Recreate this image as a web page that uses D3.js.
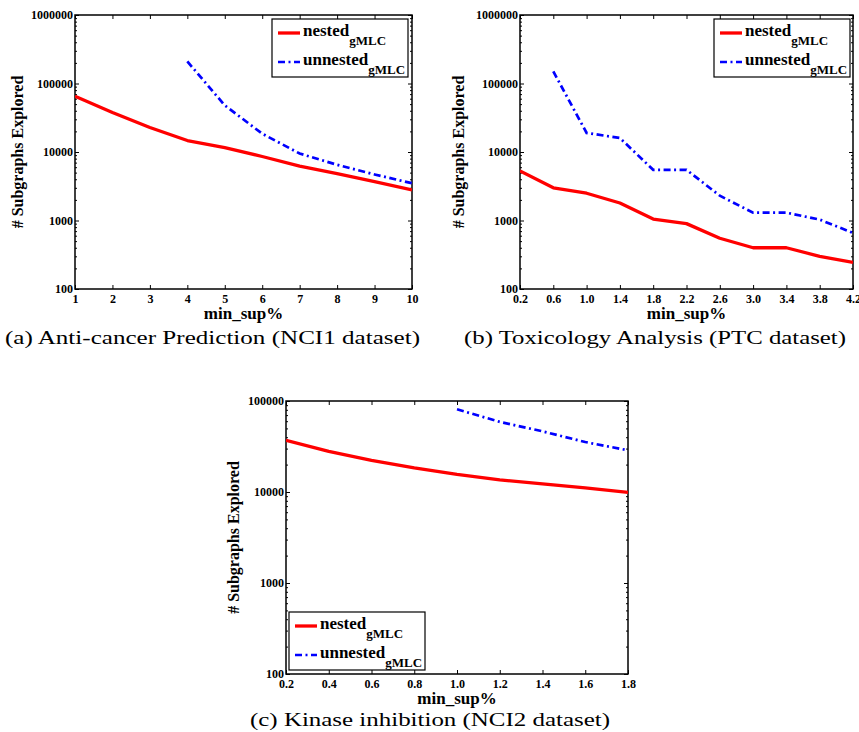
<!DOCTYPE html>
<html>
<head>
<meta charset="utf-8">
<script src="https://cdn.jsdelivr.net/npm/d3@7"></script>
<style>
	body { margin: 0; background: #fff; }
	svg { display: block; }
	.tick text { font-family: "Liberation Serif", serif; font-weight: bold; font-size: 12px; fill: #000; }
	.axisLabel { font-family: "Liberation Serif", serif; font-weight: bold; }
	.caption { font-family: "Liberation Serif", serif; font-size: 19px; }
</style>
</head>
<body>
<div id="chart"></div>
<script>
// (a) NCI1
var xA = [1, 2, 3, 4, 5, 6, 7, 8, 9, 10];
var nestedA = [65000, 37700, 22800, 14700, 11600, 8600, 6200, 4850, 3700, 2800];
var xUnA = [4, 5, 6, 7, 8, 9, 10];
var unnestedA = [210000, 48000, 18500, 9500, 6500, 4700, 3500];
var xTicksA = [1, 2, 3, 4, 5, 6, 7, 8, 9, 10];

// (b) PTC
var xB = [0.2, 0.6, 1.0, 1.4, 1.8, 2.2, 2.6, 3.0, 3.4, 3.8, 4.2];
var nestedB = [5300, 3000, 2500, 1800, 1050, 900, 550, 400, 400, 300, 245];
var xUnB = [0.6, 1.0, 1.4, 1.8, 2.2, 2.6, 3.0, 3.4, 3.8, 4.2];
var unnestedB = [150000, 19000, 16000, 5500, 5500, 2300, 1300, 1300, 1030, 660];
var xTicksB = [0.2, 0.6, 1.0, 1.4, 1.8, 2.2, 2.6, 3.0, 3.4, 3.8, 4.2];

// (c) NCI2
var xC = [0.2, 0.4, 0.6, 0.8, 1.0, 1.2, 1.4, 1.6, 1.8];
var nestedC = [37000, 28000, 22300, 18400, 15600, 13600, 12300, 11100, 9900];
var xUnC = [1.0, 1.2, 1.4, 1.6, 1.8];
var unnestedC = [81000, 59000, 46400, 35400, 28700];
var xTicksC = [0.2, 0.4, 0.6, 0.8, 1.0, 1.2, 1.4, 1.6, 1.8];

var yTicks6 = [100, 1000, 10000, 100000, 1000000];
var yTicks5 = [100, 1000, 10000, 100000];

var captions = [
	"(a) Anti-cancer Prediction (NCI1 dataset)",
	"(b) Toxicology Analysis (PTC dataset)",
	"(c) Kinase inhibition (NCI2 dataset)",
];

var svg = d3
	.select("#chart")
	.append("svg")
	.attr("width", 859)
	.attr("height", 732);

function minorTicks(lo, hi) {
	var out = [];
	for (var p = lo; p < hi; p *= 10) {
		for (var k = 2; k <= 9; k++) out.push(p * k);
	}
	return out;
}

function drawPanel(opt) {
	var x = d3.scaleLinear().domain(opt.xDomain).range([opt.left, opt.right]);
	var y = d3.scaleLog().domain(opt.yDomain).range([opt.bottom, opt.top]);
	var fmt = opt.xFormat;

	// bottom axis with labels, ticks inside
	svg.append("g")
		.attr("transform", "translate(0," + opt.bottom + ")")
		.call(d3.axisBottom(x).tickValues(opt.xTicks).tickSizeInner(-4).tickSizeOuter(0).tickPadding(5).tickFormat(fmt))
		.call((g) => g.select(".domain").remove());
	svg.append("g")
		.attr("transform", "translate(0," + opt.top + ")")
		.call(d3.axisTop(x).tickValues(opt.xTicks).tickSizeInner(-4).tickSizeOuter(0).tickFormat(""))
		.call((g) => g.select(".domain").remove());

	// left axis
	svg.append("g")
		.attr("transform", "translate(" + opt.left + ",0)")
		.call(d3.axisLeft(y).tickValues(opt.yTicks).tickSizeInner(-4).tickSizeOuter(0).tickPadding(2).tickFormat(d3.format("d")))
		.call((g) => g.select(".domain").remove());
	svg.append("g")
		.attr("transform", "translate(" + opt.left + ",0)")
		.call(d3.axisLeft(y).tickValues(minorTicks(opt.yDomain[0], opt.yDomain[1])).tickSizeInner(-2).tickSizeOuter(0).tickFormat(""))
		.call((g) => g.select(".domain").remove());
	svg.append("g")
		.attr("transform", "translate(" + opt.right + ",0)")
		.call(d3.axisRight(y).tickValues(opt.yTicks).tickSizeInner(-4).tickSizeOuter(0).tickFormat(""))
		.call((g) => g.select(".domain").remove());
	svg.append("g")
		.attr("transform", "translate(" + opt.right + ",0)")
		.call(d3.axisRight(y).tickValues(minorTicks(opt.yDomain[0], opt.yDomain[1])).tickSizeInner(-2).tickSizeOuter(0).tickFormat(""))
		.call((g) => g.select(".domain").remove());

	// frame
	svg.append("rect")
		.attr("x", opt.left)
		.attr("y", opt.top)
		.attr("width", opt.right - opt.left)
		.attr("height", opt.bottom - opt.top)
		.style("fill", "none")
		.style("stroke", "#000")
		.style("stroke-width", 1.5);

	var line = d3
		.line()
		.x((d) => x(d[0]))
		.y((d) => y(d[1]));

	var clipId = "clip" + opt.id;
	svg.append("clipPath")
		.attr("id", clipId)
		.append("rect")
		.attr("x", opt.left)
		.attr("y", opt.top)
		.attr("width", opt.right - opt.left)
		.attr("height", opt.bottom - opt.top);

	svg.append("path")
		.datum(d3.zip(opt.xNested, opt.nested))
		.attr("d", line)
		.attr("clip-path", "url(#" + clipId + ")")
		.style("fill", "none")
		.style("stroke", "#ff0000")
		.style("stroke-width", 3.3)
		.style("stroke-linejoin", "round");

	svg.append("path")
		.datum(d3.zip(opt.xUnnested, opt.unnested))
		.attr("d", line)
		.attr("clip-path", "url(#" + clipId + ")")
		.style("fill", "none")
		.style("stroke", "#0000ff")
		.style("stroke-width", 2.7)
		.style("stroke-dasharray", "7,3.5,2,3.5");

	// axis labels
	svg.append("text")
		.attr("class", "axisLabel")
		.attr("x", (opt.left + opt.right) / 2)
		.attr("y", opt.bottom + 30)
		.style("font-size", "17px")
		.style("text-anchor", "middle")
		.text("min_sup%");

	svg.append("text")
		.attr("class", "axisLabel")
		.attr("transform", "translate(" + opt.yLabelX + "," + (opt.top + opt.bottom) / 2 + ") rotate(-90)")
		.attr("dy", "0.35em")
		.style("font-size", "16px")
		.style("text-anchor", "middle")
		.text("# Subgraphs Explored");

	// legend
	var lg = svg.append("g").attr("transform", "translate(" + opt.legendX + "," + opt.legendY + ")");
	lg.append("rect")
		.attr("width", 136)
		.attr("height", 58)
		.style("fill", "#fff")
		.style("stroke", "#000")
		.style("stroke-width", 1.2);
	var items = [
		{ name: "nested", color: "#ff0000", width: 3.3, dash: null },
		{ name: "unnested", color: "#0000ff", width: 2.7, dash: "7,3.5,2,3.5" },
	];
	items.forEach(function (it, i) {
		var cy = 14 + i * 29;
		lg.append("line")
			.attr("x1", 6)
			.attr("x2", 28)
			.attr("y1", cy)
			.attr("y2", cy)
			.style("stroke", it.color)
			.style("stroke-width", it.width)
			.style("stroke-dasharray", it.dash);
		var t = lg.append("text")
			.attr("class", "axisLabel")
			.attr("x", 31)
			.attr("y", cy + 3)
			.style("font-size", "17px")
			.text(it.name);
		t.append("tspan")
			.attr("dy", 9)
			.style("font-size", "13px")
			.text("gMLC");
	});

	svg.append("text")
		.attr("class", "caption")
		.attr("x", opt.capX)
		.attr("y", opt.capY)
		.attr("textLength", opt.capW)
		.attr("lengthAdjust", "spacingAndGlyphs")
		.text(opt.caption);
}

drawPanel({
	id: "a", left: 75, right: 412, top: 15, bottom: 289,
	xDomain: [1, 10], yDomain: [100, 1000000],
	xTicks: xTicksA, yTicks: yTicks6, xFormat: d3.format("d"),
	xNested: xA, nested: nestedA, xUnnested: xUnA, unnested: unnestedA,
	yLabelX: 17, legendX: 272, legendY: 19,
	caption: captions[0], capX: 5, capY: 344, capW: 415,
});

drawPanel({
	id: "b", left: 520, right: 853, top: 15, bottom: 289,
	xDomain: [0.2, 4.2], yDomain: [100, 1000000],
	xTicks: xTicksB, yTicks: yTicks6, xFormat: d3.format(".1f"),
	xNested: xB, nested: nestedB, xUnnested: xUnB, unnested: unnestedB,
	yLabelX: 458, legendX: 714, legendY: 19,
	caption: captions[1], capX: 464, capY: 344, capW: 382,
});

drawPanel({
	id: "c", left: 286, right: 628, top: 401, bottom: 674,
	xDomain: [0.2, 1.8], yDomain: [100, 100000],
	xTicks: xTicksC, yTicks: yTicks5, xFormat: d3.format(".1f"),
	xNested: xC, nested: nestedC, xUnnested: xUnC, unnested: unnestedC,
	yLabelX: 233, legendX: 289, legendY: 612,
	caption: captions[2], capX: 250, capY: 726, capW: 360,
});
</script>
</body>
</html>
